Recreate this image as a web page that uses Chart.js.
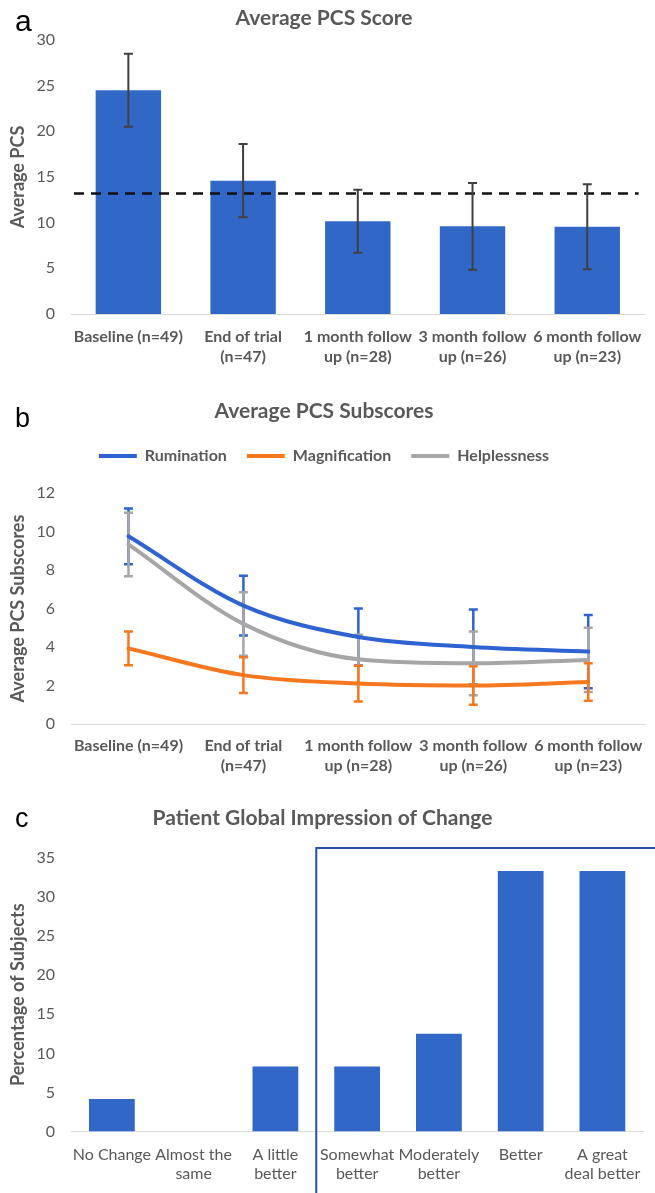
<!DOCTYPE html>
<html><head><meta charset="utf-8">
<script src="https://cdn.jsdelivr.net/npm/chart.js@4.4.0/dist/chart.umd.min.js"></script>
<style>
html,body{margin:0;padding:0;background:#fff;width:655px;height:1193px;overflow:hidden;}
.panel{position:absolute;left:0;width:655px;}
.letter{position:absolute;font-family:"Liberation Sans",Arial,sans-serif;color:#000;line-height:1;}
</style></head><body>
<div class="panel" style="top:0;height:380px"><canvas id="chartA"></canvas></div>
<div class="panel" style="top:380px;height:400px"><canvas id="chartB"></canvas></div>
<div class="panel" style="top:790px;height:403px"><canvas id="chartC"></canvas></div>
<div class="letter" style="left:15px;top:6px;font-size:30px">a</div>
<div class="letter" style="left:15px;top:405px;font-size:27px">b</div>
<div class="letter" style="left:15px;top:805px;font-size:27px">c</div>
<script>
// ---- data ----
const timepointLabels = [['Baseline (n=49)'], ['End of trial', '(n=47)'], ['1 month follow', 'up (n=28)'], ['3 month follow', 'up (n=26)'], ['6 month follow', 'up (n=23)']];
const pcsMeans = [24.5, 14.6, 10.15, 9.6, 9.55];
const pcsErrors = [4.0, 4.0, 3.45, 4.75, 4.65];
const pcsThreshold = 13.2;

const ruminationMeans = [9.75, 6.15, 4.52, 4.0, 3.76];
const ruminationErrors = [1.45, 1.55, 1.48, 1.95, 1.9];
const magnificationMeans = [3.93, 2.54, 2.1, 2.0, 2.18];
const magnificationErrors = [0.88, 0.93, 0.93, 1.0, 0.97];
const helplessnessMeans = [9.33, 5.2, 3.36, 3.15, 3.33];
const helplessnessErrors = [1.65, 1.65, 1.28, 1.65, 1.67];

const pgicLabels = [['No Change'], ['Almost the', 'same'], ['A little', 'better'], ['Somewhat', 'better'], ['Moderately', 'better'], ['Better'], ['A great', 'deal better']];
const pgicPercent = [4.17, 0, 8.33, 8.33, 12.5, 33.33, 33.33];

const pcsTicks = { min: 0, max: 30, step: 5 };
const subTicks = { min: 0, max: 12, step: 2 };
const pgicTicks = { min: 0, max: 35, step: 5 };

// ---- styles ----
Chart.defaults.font.family = 'Lato, "Open Sans", sans-serif';
Chart.defaults.color = '#595959';
const TXT = '#595959';
const BAR = '#3168C7';

const errorBarPlugin = {
  id: 'errorBars',
  beforeDatasetsDraw(chart, args, opts) { if (opts.under) drawErr(chart, opts); },
  afterDatasetsDraw(chart, args, opts) { if (!opts.under) drawErr(chart, opts); }
};
function drawErr(chart, opts) {
  const ctx = chart.ctx;
  const ys = chart.scales.y;
  const order = opts.order || chart.data.datasets.map((d, i) => i);
  ctx.save();
  order.forEach(i => {
    const ds = chart.data.datasets[i];
    if (!ds.errors) return;
    const meta = chart.getDatasetMeta(i);
    ctx.strokeStyle = ds.errorColor;
    ctx.lineWidth = opts.lineWidth;
    ctx.lineCap = 'butt';
    meta.data.forEach((el, j) => {
      const v = ds.data[j], e = ds.errors[j];
      const x = el.x;
      const y1 = ys.getPixelForValue(v + e), y2 = ys.getPixelForValue(v - e);
      const c = opts.cap;
      ctx.beginPath();
      ctx.moveTo(x, y1); ctx.lineTo(x, y2);
      ctx.moveTo(x - c, y1); ctx.lineTo(x + c, y1);
      ctx.moveTo(x - c, y2); ctx.lineTo(x + c, y2);
      ctx.stroke();
    });
  });
  ctx.restore();
}

const thresholdPlugin = {
  id: 'threshold',
  afterDatasetsDraw(chart, args, opts) {
    const ctx = chart.ctx, a = chart.chartArea;
    const y = chart.scales.y.getPixelForValue(opts.value);
    ctx.save();
    ctx.strokeStyle = '#111';
    ctx.lineWidth = 2.5;
    ctx.setLineDash([10, 7]);
    ctx.beginPath();
    ctx.moveTo(a.left + 3, y); ctx.lineTo(a.right - 6, y);
    ctx.stroke();
    ctx.restore();
  }
};

const boxPlugin = {
  id: 'improvedBox',
  afterDraw(chart, args, opts) {
    const ctx = chart.ctx, a = chart.chartArea, xs = chart.scales.x;
    const x = (xs.getPixelForValue(opts.afterIndex) + xs.getPixelForValue(opts.afterIndex + 1)) / 2;
    const top = a.top - 10;
    ctx.save();
    ctx.strokeStyle = '#2B50A6';
    ctx.lineWidth = 2;
    ctx.beginPath();
    ctx.moveTo(x, chart.height);
    ctx.lineTo(x, top);
    ctx.lineTo(chart.width, top);
    ctx.stroke();
    ctx.restore();
  }
};

function yAxis(t, title, width) {
  return {
    min: t.min, max: t.max,
    ticks: { stepSize: t.step, padding: 16, color: TXT, font: { size: 16 } },
    grid: { display: false, drawTicks: false },
    border: { display: false },
    title: { display: true, text: title, color: TXT, font: { size: 18, weight: 'bold' }, padding: { top: 7, bottom: 0 } },
    afterFit: s => { s.width = width; }
  };
}
function xAxis(height, pad, bold, lh) {
  return {
    offset: true,
    ticks: { autoSkip: false, maxRotation: 0, minRotation: 0, padding: pad, color: TXT, font: { size: 16, weight: bold ? 'bold' : 'normal', lineHeight: lh } },
    grid: { display: false, drawTicks: false },
    border: { display: true, color: '#D9D9D9', width: 1 },
    afterFit: s => { s.height = height; }
  };
}
function titleOpts(text, top, bottom) {
  return { display: true, text: text, color: TXT, font: { size: 21, weight: 'bold', lineHeight: 1.2 }, padding: { top: top, bottom: bottom } };
}

// ---- panel a ----
new Chart(document.getElementById('chartA'), {
  type: 'bar',
  data: {
    labels: timepointLabels,
    datasets: [{ label: 'Average PCS', data: pcsMeans, errors: pcsErrors, errorColor: '#404040', backgroundColor: BAR, barPercentage: 0.57, categoryPercentage: 1 }]
  },
  options: {
    responsive: true, maintainAspectRatio: false, animation: false,
    layout: { padding: { left: 0, right: 7, top: 0, bottom: 0 } },
    scales: { x: xAxis(66, 13, true, 1.25), y: yAxis(pcsTicks, 'Average PCS', 71) },
    plugins: {
      legend: { display: false }, tooltip: { enabled: false },
      title: titleOpts('Average PCS Score', 5.4, 9.4),
      threshold: { value: pcsThreshold },
      errorBars: { under: false, lineWidth: 2, cap: 4.5 }
    }
  },
  plugins: [thresholdPlugin, errorBarPlugin]
});

// ---- panel b ----
function lineDs(label, data, errs, color) {
  return { label: label, data: data, errors: errs, errorColor: color, borderColor: color, backgroundColor: color,
    borderWidth: 4, borderCapStyle: 'round', borderJoinStyle: 'round', pointRadius: 0, cubicInterpolationMode: 'monotone', fill: false };
}
new Chart(document.getElementById('chartB'), {
  type: 'line',
  data: {
    labels: timepointLabels,
    datasets: [
      lineDs('Rumination', ruminationMeans, ruminationErrors, '#2F63D2'),
      lineDs('Magnification', magnificationMeans, magnificationErrors, '#F5781E'),
      lineDs('Helplessness', helplessnessMeans, helplessnessErrors, '#A6A6A6')
    ]
  },
  options: {
    responsive: true, maintainAspectRatio: false, animation: false,
    layout: { padding: { left: 0, right: 7, top: 0, bottom: 0 } },
    scales: { x: xAxis(56, 12, true, 1.25), y: yAxis(subTicks, 'Average PCS Subscores', 71) },
    plugins: {
      tooltip: { enabled: false },
      title: titleOpts('Average PCS Subscores', 18.4, 4.4),
      legend: { display: true, position: 'top', labels: { usePointStyle: true, pointStyle: 'line', pointStyleWidth: 38, padding: 20, color: TXT, font: { size: 16, weight: 'bold' } } },
      subtitle: { display: true, text: '', weight: 500, font: { size: 10, lineHeight: 1 }, padding: { top: 0, bottom: 9 } },
      errorBars: { under: true, lineWidth: 2.5, cap: 4.5, order: [0, 2, 1] }
    }
  },
  plugins: [errorBarPlugin]
});

// ---- panel c ----
new Chart(document.getElementById('chartC'), {
  type: 'bar',
  data: {
    labels: pgicLabels,
    datasets: [{ label: 'Percentage of Subjects', data: pgicPercent, backgroundColor: BAR, barPercentage: 0.56, categoryPercentage: 1 }]
  },
  options: {
    responsive: true, maintainAspectRatio: false, animation: false,
    layout: { padding: { left: 0, right: 10, top: 0, bottom: 0 } },
    scales: { x: xAxis(61.5, 14, false, 1.2), y: yAxis(pgicTicks, 'Percentage of Subjects', 71) },
    plugins: {
      legend: { display: false }, tooltip: { enabled: false },
      title: titleOpts('Patient Global Impression of Change', 15.4, 27.4),
      improvedBox: { afterIndex: 2 }
    }
  },
  plugins: [boxPlugin]
});
</script>
</body></html>
